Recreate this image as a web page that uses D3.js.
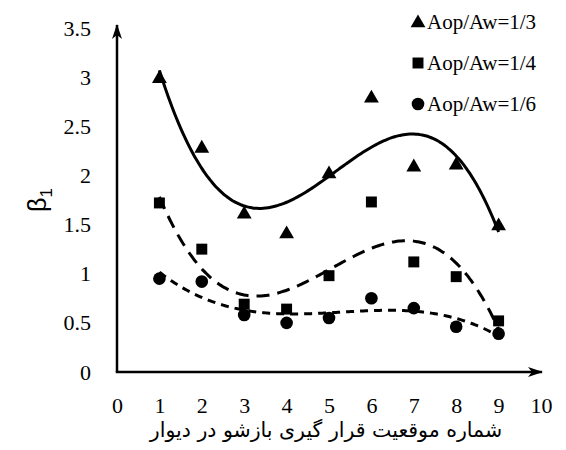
<!DOCTYPE html>
<html lang="en">
<head>
<meta charset="UTF-8">
<title>beta1 chart</title>
<script src="https://d3js.org/d3.v7.min.js"></script>
<style>
  body { margin: 0; background: #fff; }
  .serif { font-family: "Liberation Serif", "Times New Roman", serif; }
</style>
</head>
<body>
<script>
    // wall opening position 1..9
    var positions = [1, 2, 3, 4, 5, 6, 7, 8, 9];
    // beta1 per opening ratio
    var ratio13 = [3.0, 2.29, 1.62, 1.42, 2.03, 2.80, 2.10, 2.12, 1.50];
    var ratio14 = [1.72, 1.25, 0.69, 0.64, 0.98, 1.73, 1.12, 0.97, 0.52];
    var ratio16 = [0.95, 0.92, 0.58, 0.50, 0.55, 0.75, 0.65, 0.46, 0.39];
    var seriesNames = ["Aop/Aw=1/3", "Aop/Aw=1/4", "Aop/Aw=1/6"];
    var xTicks = [0, 1, 2, 3, 4, 5, 6, 7, 8, 9, 10];
    var yTicks = [0, 0.5, 1, 1.5, 2, 2.5, 3, 3.5];

    var W = 566, H = 450;
    var svg = d3.select("body").append("svg")
        .attr("width", W)
        .attr("height", H);

    var x = d3.scaleLinear().domain([0, 10]).range([117, 541]);
    var y = d3.scaleLinear().domain([0, 3.5]).range([372, 28]);

    // arrow heads for the axes
    svg.append("defs").append("marker")
        .attr("id", "arr")
        .attr("viewBox", "0 0 15 10")
        .attr("refX", 14).attr("refY", 5)
        .attr("markerWidth", 6).attr("markerHeight", 4)
        .attr("markerUnits", "strokeWidth")
        .attr("orient", "auto")
        .append("path")
        .attr("d", "M0,0 L15,5 L0,10 L4,5 Z")
        .attr("fill", "#000");

    // axis lines (drawn by hand so they can carry arrows)
    svg.append("path")
        .attr("d", "M" + x(0) + "," + y(0) + " L" + x(0) + "," + (y(3.5) - 3))
        .attr("stroke", "#000").attr("stroke-width", 2.5).attr("fill", "none")
        .attr("marker-end", "url(#arr)");
    svg.append("path")
        .attr("d", "M" + (x(0) - 1.2) + "," + y(0) + " L" + (x(10) + 1) + "," + y(0))
        .attr("stroke", "#000").attr("stroke-width", 2.5).attr("fill", "none")
        .attr("marker-end", "url(#arr)");

    var xAxis = svg.append("g")
        .attr("transform", "translate(0," + y(0) + ")")
        .call(d3.axisBottom(x).tickValues(xTicks).tickSize(0).tickPadding(25));
    xAxis.select(".domain").remove();
    xAxis.attr("font-family", null).attr("font-size", null);
    xAxis.selectAll("text")
        .attr("class", "serif")
        .style("font-size", "22px")
        .attr("fill", "#000");

    var yAxis = svg.append("g")
        .attr("transform", "translate(91,0)")
        .call(d3.axisLeft(y).tickValues(yTicks).tickSize(0).tickPadding(0)
            .tickFormat(function (d) { return d; }));
    yAxis.select(".domain").remove();
    yAxis.attr("font-family", null).attr("font-size", null);
    yAxis.selectAll("text")
        .attr("class", "serif")
        .style("font-size", "22px")
        .attr("fill", "#000");

    // y title beta_1
    var yt = svg.append("text")
        .attr("transform", "translate(46,200) rotate(-90)")
        .attr("text-anchor", "middle")
        .style("font-family", "'Liberation Sans', Arial, sans-serif")
        .style("font-size", "25px")
        .attr("fill", "#000");
    yt.append("tspan").text("β");
    yt.append("tspan").style("font-size", "17px").attr("dy", 6).text("1");

    // x title (Persian)
    svg.append("text")
        .attr("x", 326).attr("y", 437)
        .attr("text-anchor", "middle")
        .style("font-family", "'DejaVu Sans', sans-serif")
        .style("font-size", "20.5px")
        .attr("fill", "#000")
        .text("شماره موقعیت قرار گیری بازشو در دیوار");

    // least squares cubic trend line (like a spreadsheet trendline)
    function cubicFit(xs, ys) {
        var n = 4, A = [], b = [];
        for (var i = 0; i < n; i++) {
            A.push([]);
            for (var j = 0; j < n; j++) {
                A[i].push(d3.sum(xs, function (v) { return Math.pow(v, i + j); }));
            }
            b.push(d3.sum(xs, function (v, k) { return ys[k] * Math.pow(v, i); }));
        }
        for (var c = 0; c < n; c++) {
            for (var r = c + 1; r < n; r++) {
                var f = A[r][c] / A[c][c];
                for (var k = c; k < n; k++) A[r][k] -= f * A[c][k];
                b[r] -= f * b[c];
            }
        }
        var co = [0, 0, 0, 0];
        for (var r2 = n - 1; r2 >= 0; r2--) {
            var s = b[r2];
            for (var k2 = r2 + 1; k2 < n; k2++) s -= A[r2][k2] * co[k2];
            co[r2] = s / A[r2][r2];
        }
        return function (v) { return co[0] + co[1] * v + co[2] * v * v + co[3] * v * v * v; };
    }

    var series = [
        { vals: ratio13, sym: d3.symbolTriangle, size: 95, dash: null },
        { vals: ratio14, sym: d3.symbolSquare, size: 120, dash: "13,8" },
        { vals: ratio16, sym: d3.symbolCircle, size: 125, dash: "8,6" }
    ];

    var fine = d3.range(1, 9.001, 0.05);
    var line = d3.line()
        .x(function (d) { return x(d[0]); })
        .y(function (d) { return y(d[1]); })
        .curve(d3.curveBasis);

    series.forEach(function (s) {
        var fn = cubicFit(positions, s.vals);
        svg.append("path")
            .datum(fine.map(function (v) { return [v, fn(v)]; }))
            .attr("d", line)
            .attr("fill", "none")
            .attr("stroke", "#000")
            .attr("stroke-width", 3)
            .attr("stroke-dasharray", s.dash);
    });

    series.forEach(function (s) {
        svg.append("g").selectAll("path")
            .data(s.vals)
            .enter().append("path")
            .attr("transform", function (d, i) {
                var dy = s.sym === d3.symbolTriangle ? 1.5 : 0;
                return "translate(" + x(positions[i]) + "," + (y(d) + dy) + ")";
            })
            .attr("d", d3.symbol().type(s.sym).size(s.size))
            .attr("fill", "#000");
    });

    // legend top right
    var legend = svg.append("g");
    seriesNames.forEach(function (name, i) {
        var ly = 22 + i * 41;
        legend.append("path")
            .attr("transform", "translate(418," + (ly + (i === 0 ? 1 : 0)) + ")")
            .attr("d", d3.symbol().type(series[i].sym).size(series[i].size))
            .attr("fill", "#000");
        legend.append("text")
            .attr("x", 427).attr("y", ly + 7)
            .attr("class", "serif")
            .style("font-size", "21px")
            .attr("fill", "#000")
            .text(name);
    });
</script>
</body>
</html>
